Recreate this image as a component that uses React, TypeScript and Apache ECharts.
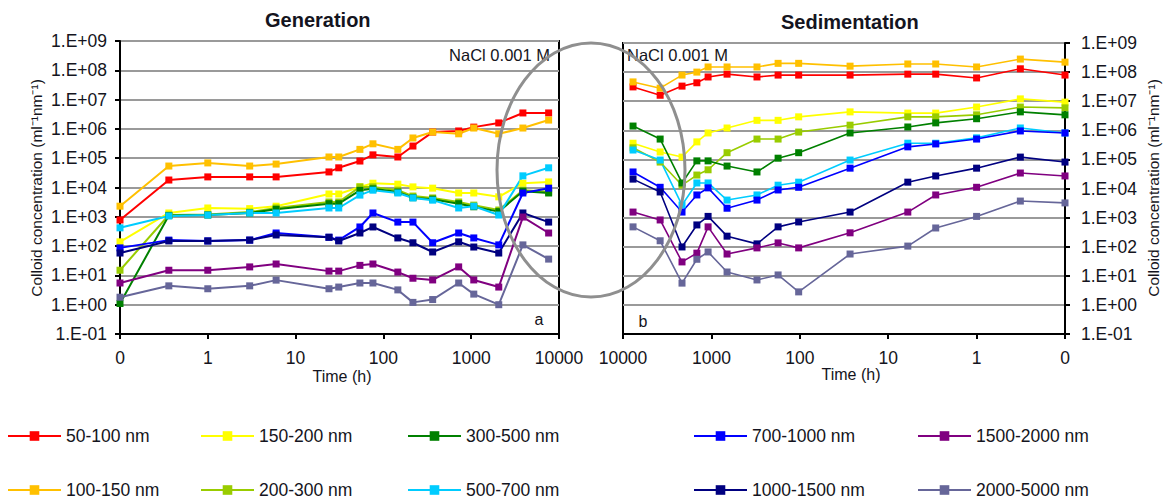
import React, { useEffect, useRef } from "react";
import * as echarts from "echarts";

// ---- data ----
const sizeClasses = [
  "50-100 nm",
  "100-150 nm",
  "150-200 nm",
  "200-300 nm",
  "300-500 nm",
  "500-700 nm",
  "700-1000 nm",
  "1000-1500 nm",
  "1500-2000 nm",
  "2000-5000 nm",
];
const classColors = [
  "#ff0000",
  "#ffc000",
  "#ffff00",
  "#99cc00",
  "#008000",
  "#00ccff",
  "#0000ff",
  "#000080",
  "#800080",
  "#666699",
];

// time points (h); the first generation point / last sedimentation point is t = 0 (drawn at axis origin 0.1)
const genTimes = [0.1, 0.36, 1, 3, 6, 24, 31, 54, 76, 146, 217, 364, 720, 1070, 2060, 3880, 7620];
const sedTimes = [7700, 3800, 2150, 1460, 1090, 665, 305, 176, 103, 27, 6, 2.9, 1, 0.32, 0.1];

// Generation (panel a)
const gen_50_100 = [780, 1.8e4, 2.3e4, 2.3e4, 2.3e4, 3.4e4, 4.7e4, 8e4, 1.3e5, 1.1e5, 2.6e5, 7.8e5, 8.5e5, 1.15e6, 1.6e6, 3.5e6, 3.5e6];
const gen_100_150 = [2.3e3, 5.4e4, 6.9e4, 5.4e4, 6.3e4, 1.1e5, 1.1e5, 2.0e5, 3.1e5, 2.0e5, 4.9e5, 7.8e5, 6.8e5, 1.07e6, 6.8e5, 1.07e6, 2.0e6];
const gen_150_200 = [140, 1.35e3, 2.0e3, 1.9e3, 2.3e3, 6e3, 6e3, 1.05e4, 1.4e4, 1.3e4, 1.05e4, 9.5e3, 6.5e3, 6.5e3, 4.8e3, 1.4e4, 1.55e4];
const gen_200_300 = [15, 1.15e3, 1.2e3, 1.45e3, 2.0e3, 3.2e3, 3.2e3, 1.05e4, 1.05e4, 8.1e3, 5.1e3, 4.4e3, 3.2e3, 2.5e3, 1.7e3, 8.1e3, 7.1e3];
const gen_300_500 = [1.1, 1.1e3, 1.15e3, 1.35e3, 1.8e3, 2.8e3, 2.8e3, 8e3, 9e3, 7e3, 4.5e3, 4e3, 2.8e3, 2.2e3, 1.5e3, 7.5e3, 6.5e3];
const gen_500_700 = [420, 1.07e3, 1.15e3, 1.35e3, 1.35e3, 2.0e3, 2.0e3, 5.5e3, 8.1e3, 6.5e3, 4.4e3, 3.7e3, 2.0e3, 2.3e3, 1.15e3, 2.5e4, 4.7e4];
const gen_700_1000 = [87, 160, 150, 160, 280, 200, 160, 450, 1.35e3, 660, 660, 130, 280, 190, 110, 6.5e3, 9.5e3];
const gen_1000_1500 = [58, 150, 150, 160, 240, 200, 150, 280, 450, 190, 130, 63, 140, 93, 58, 1.35e3, 660];
const gen_1500_2000 = [5.5, 15, 15, 19.5, 24.5, 14, 14, 22, 24.5, 13, 8, 7, 19.5, 7, 4, 980, 280];
const gen_2000_5000 = [1.8, 4.4, 3.5, 4.4, 6.9, 3.5, 4, 5.5, 5.5, 3.2, 1.2, 1.5, 5.5, 2.3, 1.0, 110, 36];

// Sedimentation (panel b)
const sed_50_100 = [3.1e7, 1.6e7, 3.3e7, 4.3e7, 6.8e7, 8.5e7, 6.8e7, 7.9e7, 7.9e7, 7.9e7, 8.5e7, 8.5e7, 6.3e7, 1.3e8, 7.9e7];
const sed_100_150 = [4.6e7, 2.8e7, 7.9e7, 1.0e8, 1.5e8, 1.5e8, 1.5e8, 2.0e8, 2.0e8, 1.6e8, 1.9e8, 1.9e8, 1.5e8, 2.8e8, 2.2e8];
const sed_150_200 = [3.6e5, 1.8e5, 1.2e5, 4.0e5, 8.1e5, 1.2e6, 2.2e6, 2.2e6, 2.9e6, 4.3e6, 3.9e6, 3.9e6, 6.3e6, 1.2e7, 9.3e6];
const sed_200_300 = [2.5e5, 8.1e4, 1.3e4, 2.9e4, 4.4e4, 1.7e5, 5.0e5, 5.0e5, 8.7e5, 1.5e6, 2.9e6, 2.9e6, 3.4e6, 6.3e6, 5.9e6];
const sed_300_500 = [1.4e6, 5.0e5, 1.55e4, 8.9e4, 8.9e4, 5.9e4, 3.7e4, 1.1e5, 1.7e5, 8.1e5, 1.3e6, 1.8e6, 2.5e6, 4.3e6, 3.4e6];
const sed_500_700 = [2.1e5, 9.5e4, 2.7e3, 1.55e4, 1.55e4, 4.0e3, 6.0e3, 1.3e4, 1.65e4, 9.5e4, 3.6e5, 3.6e5, 5.5e5, 1.2e6, 8.1e5];
const sed_700_1000 = [3.7e4, 1.1e4, 1.55e3, 6.0e3, 1.05e4, 2.1e3, 4.0e3, 8.9e3, 1.1e4, 5.0e4, 2.7e5, 3.4e5, 5.0e5, 9.5e5, 8.1e5];
const sed_1000_1500 = [2.1e4, 7.6e3, 98, 560, 1.1e3, 230, 125, 480, 710, 1.55e3, 1.65e4, 2.7e4, 5.0e4, 1.2e5, 8.1e4];
const sed_1500_2000 = [1.55e3, 830, 30, 60, 480, 56, 91, 135, 91, 300, 1.55e3, 6.0e3, 1.1e4, 3.4e4, 2.7e4];
const sed_2000_5000 = [480, 160, 5.6, 37, 66, 13.5, 7.2, 10.7, 2.8, 56, 105, 440, 1.1e3, 3.7e3, 3.2e3];

const genData = [gen_50_100, gen_100_150, gen_150_200, gen_200_300, gen_300_500, gen_500_700, gen_700_1000, gen_1000_1500, gen_1500_2000, gen_2000_5000];
const sedData = [sed_50_100, sed_100_150, sed_150_200, sed_200_300, sed_300_500, sed_500_700, sed_700_1000, sed_1000_1500, sed_1500_2000, sed_2000_5000];

const FONT = "'Liberation Sans', Arial, sans-serif";
const TXT = "#141420";

const yFmt = (v: number) => {
  const e = Math.round(Math.log10(v));
  return "1.E" + (e < 0 ? "-" : "+") + String(Math.abs(e)).padStart(2, "0");
};
const xFmt = (v: number) => (v < 0.5 ? "0" : String(Math.round(v)));

export default function App() {
  const ref = useRef<HTMLDivElement>(null);
  useEffect(() => {
    if (!ref.current) return;
    const chart = echarts.init(ref.current, undefined, { renderer: "svg" });

    const axisLabelStyle = { color: TXT, fontFamily: FONT, fontSize: 17.5 };
    const xAxisBase = (gridIndex: number, inverse: boolean) => ({
      type: "log" as const,
      logBase: 10,
      gridIndex,
      min: 0.1,
      max: 10000,
      splitNumber: 5,
      inverse,
      axisLine: { show: true, lineStyle: { color: "#000", width: 2 } },
      axisTick: { show: true, length: 5, lineStyle: { color: "#000", width: 2 } },
      axisLabel: { ...axisLabelStyle, margin: 15, formatter: xFmt },
      splitLine: { show: false },
      minorTick: { show: false },
    });
    const yAxisBase = (gridIndex: number, position: "left" | "right", margin: number) => ({
      type: "log" as const,
      logBase: 10,
      gridIndex,
      position,
      min: 0.1,
      max: 1e9,
      splitNumber: 10,
      axisLine: { show: true, lineStyle: { color: "#000", width: 2 } },
      axisTick: { show: true, length: 5, lineStyle: { color: "#000", width: 2 } },
      axisLabel: { ...axisLabelStyle, margin, formatter: yFmt },
      splitLine: { show: true, lineStyle: { color: "#9a9a9a", width: 2 } },
      minorTick: { show: false },
    });

    const series: any[] = [];
    sizeClasses.forEach((name, i) => {
      series.push({
        type: "line",
        name,
        xAxisIndex: 0,
        yAxisIndex: 0,
        data: genTimes.map((t, j) => [t, genData[i][j]]),
        symbol: "rect",
        symbolSize: 7,
        lineStyle: { color: classColors[i], width: 2 },
        itemStyle: { color: classColors[i] },
        z: 3,
      });
    });
    sizeClasses.forEach((name, i) => {
      series.push({
        type: "line",
        name,
        xAxisIndex: 1,
        yAxisIndex: 1,
        data: sedTimes.map((t, j) => [t, sedData[i][j]]),
        symbol: "rect",
        symbolSize: 7,
        lineStyle: { color: classColors[i], width: 1.6 },
        itemStyle: { color: classColors[i] },
        z: 3,
      });
    });

    const legendCols = [7, 200, 407, 693, 917];
    const legendRows = [433, 487];
    const legends = sizeClasses.map((name, i) => ({
      data: [name],
      orient: "horizontal" as const,
      left: legendCols[Math.floor(i / 2)],
      top: legendRows[i % 2] - 6,
      padding: 0,
      itemWidth: 53,
      itemHeight: 12,
      textStyle: { color: TXT, fontFamily: FONT, fontSize: 17.5, lineHeight: 18 },
      selectedMode: false,
    }));

    const yName = "Colloid concentration (ml\u207B\u00B9nm\u207B\u00B9)";

    chart.setOption({
      animation: false,
      backgroundColor: "#fff",
      grid: [
        { left: 120, right: 1170 - 559, top: 41, bottom: 500 - 334, show: true, borderColor: "#000", borderWidth: 2, backgroundColor: "transparent" },
        { left: 623, right: 1170 - 1065, top: 43, bottom: 500 - 334, show: true, borderColor: "#000", borderWidth: 2, backgroundColor: "transparent" },
      ],
      xAxis: [xAxisBase(0, false), xAxisBase(1, true)],
      yAxis: [yAxisBase(0, "left", 13), yAxisBase(1, "right", 16)],
      legend: legends,
      series,
      graphic: [
        { type: "text", left: 320 - 55, top: 10, style: { text: "Generation", fontFamily: FONT, fontSize: 20, fontWeight: "bold", fill: TXT } },
        { type: "text", left: 853 - 72, top: 12, style: { text: "Sedimentation", fontFamily: FONT, fontSize: 20, fontWeight: "bold", fill: TXT } },
        { type: "text", x: 550, y: 55, style: { text: "NaCl 0.001 M", fontFamily: FONT, fontSize: 16.5, fill: TXT, align: "right", verticalAlign: "middle" } },
        { type: "text", x: 627, y: 55, style: { text: "NaCl 0.001 M", fontFamily: FONT, fontSize: 16.5, fill: TXT, align: "left", verticalAlign: "middle" } },
        { type: "text", x: 539, y: 319, style: { text: "a", fontFamily: FONT, fontSize: 16, fill: TXT, align: "center", verticalAlign: "middle" } },
        { type: "text", x: 643, y: 321, style: { text: "b", fontFamily: FONT, fontSize: 16, fill: TXT, align: "center", verticalAlign: "middle" } },
        { type: "text", x: 342, y: 376, style: { text: "Time (h)", fontFamily: FONT, fontSize: 16, fill: TXT, align: "center", verticalAlign: "middle" } },
        { type: "text", x: 851, y: 374, style: { text: "Time (h)", fontFamily: FONT, fontSize: 16, fill: TXT, align: "center", verticalAlign: "middle" } },
        { type: "text", x: 36, y: 188, rotation: Math.PI / 2, style: { text: yName, fontFamily: FONT, fontSize: 15.5, fill: TXT, align: "center", verticalAlign: "middle" } },
        { type: "text", x: 1153, y: 188, rotation: Math.PI / 2, style: { text: yName, fontFamily: FONT, fontSize: 15.5, fill: TXT, align: "center", verticalAlign: "middle" } },
        { type: "ellipse", shape: { cx: 591, cy: 170, rx: 94, ry: 127 }, style: { fill: "none", stroke: "#8f8f8f", lineWidth: 3 }, z: 100 },
      ],
    });
    return () => chart.dispose();
  }, []);
  return <div ref={ref} style={{ position: "fixed", left: 0, top: 0, width: 1170, height: 500 }} />;
}
